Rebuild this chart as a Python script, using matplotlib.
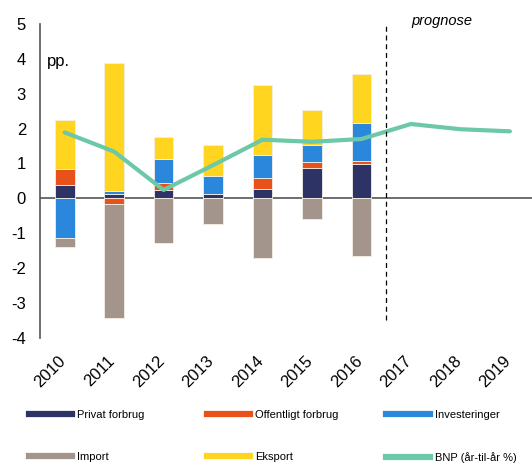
import numpy as np
import matplotlib
matplotlib.use("Agg")
import matplotlib.pyplot as plt
import matplotlib.transforms as mtransforms
from matplotlib.lines import Line2D

plt.rcParams['font.family'] = ['Liberation Sans', 'DejaVu Sans']
plt.rcParams['axes.unicode_minus'] = False

years = ['2010', '2011', '2012', '2013', '2014', '2015', '2016', '2017', '2018', '2019']

# contributions to growth, pp. (only historical years have bars)
privat = [0.38, 0.11, 0.24, 0.13, 0.26, 0.88, 0.99]
offentligt = [0.45, -0.17, 0.21, 0.0, 0.31, 0.15, 0.09]
investeringer = [-1.15, 0.09, 0.68, 0.51, 0.68, 0.49, 1.08]
importen = [-0.24, -3.26, -1.28, -0.75, -1.72, -0.58, -1.66]
eksport = [1.41, 3.67, 0.64, 0.90, 2.00, 1.01, 1.41]
bnp = [1.89, 1.34, 0.24, 0.95, 1.68, 1.62, 1.70, 2.13, 1.98, 1.92]

c_privat = '#2d3364'
c_off = '#e8521a'
c_inv = '#2a87dc'
c_imp = '#a3958c'
c_eks = '#ffd520'
c_bnp = '#6cc8a6'

fig = plt.figure(figsize=(5.32, 4.68), dpi=100)
ax = fig.add_axes([0.075, 0.278, 0.93, 0.671])

x = np.arange(len(privat))
w = 0.4
series = [(privat, c_privat), (offentligt, c_off), (investeringer, c_inv),
          (importen, c_imp), (eksport, c_eks)]
pos_base = np.zeros(len(x))
neg_base = np.zeros(len(x))
for vals, col in series:
    v = np.array(vals)
    bottoms = np.where(v >= 0, pos_base, neg_base)
    ax.bar(x, v, w, bottom=bottoms, color=col, edgecolor='#f4efe6', linewidth=0.6, zorder=2)
    pos_base = pos_base + np.where(v >= 0, v, 0)
    neg_base = neg_base + np.where(v < 0, v, 0)

ax.plot(np.arange(len(years)), bnp, color=c_bnp, lw=3, solid_capstyle='round', zorder=3)

ax.axhline(0, color='#555555', lw=1.2, zorder=1)
ax.plot([6.5, 6.5], [-3.5, 5], color='black', lw=0.9, ls=(0, (4, 3)), zorder=4)
ax.text(7.63, 5.08, 'prognose', style='italic', fontsize=10.5, ha='center', va='center',
        clip_on=False)
ax.text(0.015, 0.88, 'pp.', transform=ax.transAxes, fontsize=12, va='center')

ax.set_xlim(-0.5, 9.5)
ax.set_ylim(-4, 5)
ax.set_yticks(range(-4, 6))
ax.set_xticks(np.arange(len(years)))
ax.set_xticklabels(years, rotation=45, ha='right', rotation_mode='anchor')
ax.tick_params(axis='both', length=0, labelsize=12)
ax.tick_params(axis='y', pad=10)
ax.tick_params(axis='x', pad=11)
shift = mtransforms.ScaledTranslation(-7 / 100, 0, fig.dpi_scale_trans)
for lbl in ax.get_xticklabels():
    lbl.set_transform(lbl.get_transform() + shift)
for s in ['top', 'right', 'bottom']:
    ax.spines[s].set_visible(False)
ax.spines['left'].set_color('#555555')
ax.spines['left'].set_linewidth(1.2)

entries = [
    [('Privat forbrug', c_privat), ('Import', c_imp)],
    [('Offentligt forbrug', c_off), ('Eksport', c_eks)],
    [('Investeringer', c_inv), ('BNP (år-til-år %)', c_bnp)],
]
xs = [0.0545, 0.389, 0.726]
for xpos, col in zip(xs, entries):
    handles = [Line2D([], [], color=c, lw=4.5) for _, c in col]
    fig.legend(handles, [l for l, _ in col], loc='upper left', bbox_to_anchor=(xpos, 0.124),
               frameon=False, fontsize=8, handlelength=3.9, handletextpad=0.45,
               labelspacing=2.88, borderaxespad=0, borderpad=0)

fig.savefig('out.png', dpi=100)
